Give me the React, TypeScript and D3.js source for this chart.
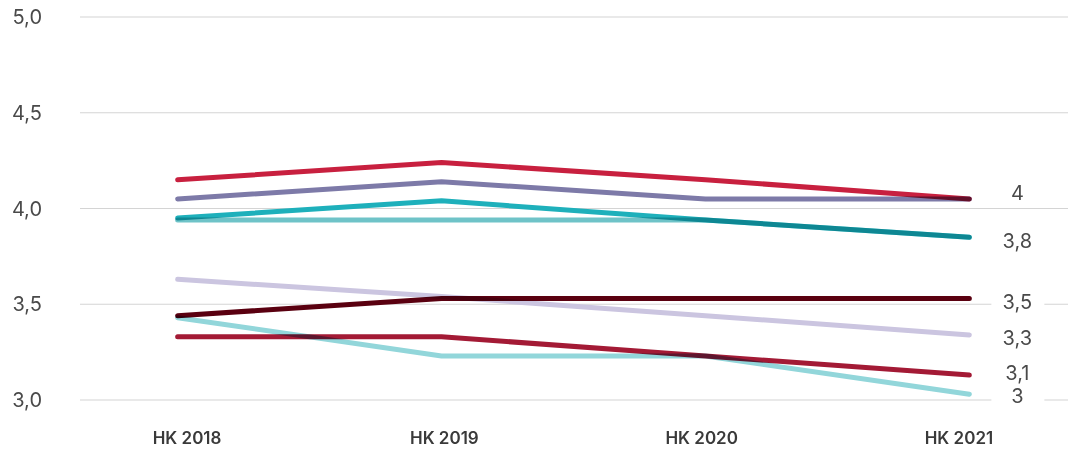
import React from "react";
import * as d3 from "d3";

const categories = ["HK 2018", "HK 2019", "HK 2020", "HK 2021"];
const yTicks = [3.0, 3.5, 4.0, 4.5, 5.0];

const seriesNames = ["red", "purple", "teal", "lightTeal", "lavender", "maroon", "lightCyan", "crimson"];
const seriesColors = ["#c8203f", "#7d7aa8", "#1eb0bb", "#6fc3c8", "#cbc5e0", "#5a0010", "#92d6da", "#a31a35"];
const redValues = [4.15, 4.24, 4.15, 4.05];
const purpleValues = [4.05, 4.14, 4.05, 4.05];
const tealValues = [3.95, 4.04, 3.94, 3.85];
const lightTealValues = [3.94, 3.94, 3.94, 3.85];
const lavenderValues = [3.63, 3.54, 3.44, 3.34];
const maroonValues = [3.44, 3.53, 3.53, 3.53];
const lightCyanValues = [3.43, 3.23, 3.23, 3.03];
const crimsonValues = [3.33, 3.33, 3.23, 3.13];
const seriesValues = [
  redValues, purpleValues, tealValues, lightTealValues,
  lavenderValues, maroonValues, lightCyanValues, crimsonValues,
];

// end labels: text and the series whose last value it sits by
const endLabelTexts = ["4", "3,8", "3,5", "3,3", "3,1", "3"];
const endLabelSeries = [0, 2, 5, 4, 7, 6];
const endLabelNudge = [-6, 4, 3, 3, -2, 2];

const W = 1072;
const H = 450;

export default function App() {
  const x = d3.scalePoint<string>().domain(categories).range([80, 1067]).padding(0.37);
  const xLabel = d3.scalePoint<string>().domain(categories).range([79, 1067]).padding(0.42);
  const y = d3.scaleLinear().domain([3, 5]).range([400, 17]);
  const line = d3
    .line<number>()
    .x((_, i) => x(categories[i]) as number)
    .y((d) => y(d));
  const fmt = (v: number) => v.toFixed(1).replace(".", ",");
  const lastX = x(categories[categories.length - 1]) as number;
  const labelX = lastX + 48;

  return (
    <svg
      width={W}
      height={H}
      style={{ position: "absolute", left: 0, top: 0, background: "#fff" }}
      fontFamily="Inter, 'Noto Sans', sans-serif"
    >
      <rect x={0} y={0} width={W} height={H} fill="#fff" />
      {yTicks.map((t) => (
        <g key={t}>
          <line x1={80} x2={1068} y1={y(t)} y2={y(t)} stroke="#d4d4d4" strokeWidth={1.2} />
          <text x={42} y={y(t)} dy="0.35em" textAnchor="end" fontSize={20} fill="#4a4a4a">
            {fmt(t)}
          </text>
        </g>
      ))}
      <g style={{ isolation: "isolate" }}>
        {seriesValues.map((vals, i) => (
          <path
            key={seriesNames[i]}
            d={line(vals) || ""}
            fill="none"
            stroke={seriesColors[i]}
            strokeWidth={5}
            strokeLinecap="round"
            strokeLinejoin="round"
            style={{ mixBlendMode: "multiply" }}
          />
        ))}
      </g>
      {endLabelTexts.map((t, i) => {
        const yy = y(seriesValues[endLabelSeries[i]][3]) + endLabelNudge[i];
        return (
          <g key={t}>
            <rect x={labelX - 26} y={yy - 12} width={53} height={24} fill="#fff" />
            <text x={labelX} y={yy} dy="0.35em" textAnchor="middle" fontSize={20} fill="#4a4a4a">
              {t}
            </text>
          </g>
        );
      })}
      {categories.map((c) => (
        <text
          key={c}
          x={xLabel(c) as number}
          y={438}
          dy="0.35em"
          textAnchor="middle"
          fontSize={17}
          fontWeight={600}
          fill="#3a3a3a"
        >
          {c}
        </text>
      ))}
    </svg>
  );
}
